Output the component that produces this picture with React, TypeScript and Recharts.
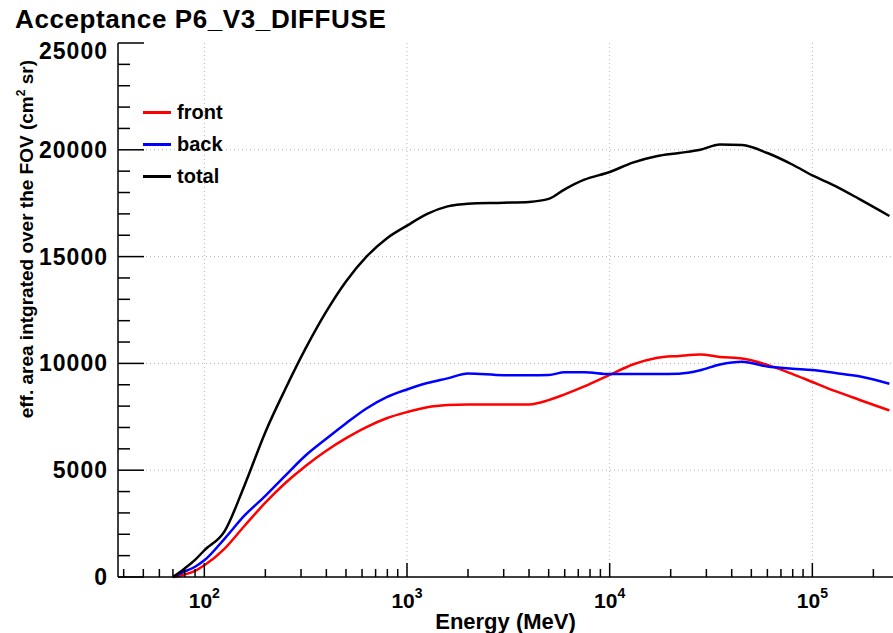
import { CartesianGrid, Line, LineChart, XAxis, YAxis } from "recharts";

const title = "Acceptance P6_V3_DIFFUSE";

const energies = [
  70, 80, 90, 100, 126, 158, 200, 251, 316, 398, 501, 631, 794, 1000, 1259, 1585, 2000, 3000, 4000, 5000,
  6000, 7500, 10000, 13000, 17000, 22000, 28000, 35000, 45000, 60000, 80000, 100000, 130000, 170000, 240000,
];

const front = [
  0, 120, 290, 550, 1330, 2400, 3480, 4400, 5200, 5900, 6500, 7020, 7430, 7720, 7950, 8050, 8080, 8080,
  8080, 8280, 8550, 8920, 9460, 9950, 10250, 10350, 10420, 10300, 10230, 9930, 9500, 9130, 8700, 8300,
  7800,
];

const back = [
  0, 260, 480, 780, 1800, 2880, 3800, 4750, 5690, 6460, 7200, 7890, 8420, 8780, 9080, 9300, 9530, 9450,
  9450, 9460, 9580, 9580, 9500, 9500, 9500, 9520, 9680, 9950, 10080, 9850, 9750, 9690, 9550, 9400, 9050,
];

const total = [
  0, 400, 800, 1250, 2150, 4300, 6780, 8800, 10700, 12400, 13850, 15000, 15850, 16450, 17000, 17350,
  17480, 17520, 17560, 17700, 18150, 18600, 18960, 19400, 19700, 19850, 20000, 20250, 20220, 19850,
  19300, 18800, 18300, 17700, 16900,
];

const xTicks = [
  40, 50, 60, 70, 80, 90, 100, 200, 300, 400, 500, 600, 700, 800, 900, 1000, 2000, 3000, 4000, 5000,
  6000, 7000, 8000, 9000, 10000, 20000, 30000, 40000, 50000, 60000, 70000, 80000, 90000, 100000, 200000,
];
const xDecades = [100, 1000, 10000, 100000];

const yTicks = [
  0, 1000, 2000, 3000, 4000, 5000, 6000, 7000, 8000, 9000, 10000, 11000, 12000, 13000, 14000, 15000,
  16000, 17000, 18000, 19000, 20000, 21000, 22000, 23000, 24000, 25000,
];
const yMajor = [5000, 10000, 15000, 20000];

const series = [
  { key: "front", name: "front", color: "#ff0000" },
  { key: "back", name: "back", color: "#0000ff" },
  { key: "total", name: "total", color: "#000000" },
];

const rows = energies.map((e, i) => ({ e, front: front[i], back: back[i], total: total[i] }));

const FONT = "'Liberation Sans', Arial, Helvetica, sans-serif";

const isDecade = (v: number) => xDecades.includes(v);

function BottomTick({ x, y, payload }: any) {
  const v = payload.value;
  const big = isDecade(v);
  const exp = Math.round(Math.log10(v));
  return (
    <g>
      <line x1={x} x2={x} y1={y} y2={y - (big ? 14 : 8)} stroke="#000" strokeWidth={1.5} />
      {big && (
        <text x={x} y={y + 31} textAnchor="middle" fontFamily={FONT} fontWeight="bold" fontSize={21} fill="#000">
          10
          <tspan fontSize={14} dy={-10}>
            {exp}
          </tspan>
        </text>
      )}
    </g>
  );
}

function TopTick({ x, y, payload }: any) {
  const big = isDecade(payload.value);
  return <line x1={x} x2={x} y1={y} y2={y + (big ? 14 : 8)} stroke="#000" strokeWidth={1.5} />;
}

function LeftTick({ x, y, payload }: any) {
  const v = payload.value;
  const big = v % 5000 === 0;
  // the top label sits just under the frame, as in the original
  const dy = v === 25000 ? 16 : 8;
  return (
    <g>
      <line x1={x} x2={x + (big ? 26 : 12)} y1={y} y2={y} stroke="#000" strokeWidth={1.5} />
      {big && (
        <text
          x={x - 10}
          y={y + dy}
          textAnchor="end"
          fontFamily={FONT}
          fontWeight="bold"
          fontSize={23}
          letterSpacing={1}
          fill="#000"
        >
          {v}
        </text>
      )}
    </g>
  );
}

function RightTick({ x, y, payload }: any) {
  const big = payload.value % 5000 === 0;
  return <line x1={x} x2={x - (big ? 22 : 8)} y1={y} y2={y} stroke="#000" strokeWidth={1.5} />;
}

function LegendBox() {
  return (
    <div
      style={{
        position: "absolute",
        left: 143,
        top: 96,
        fontFamily: FONT,
        fontWeight: "bold",
        fontSize: 20,
      }}
    >
      {series.map((s) => (
        <div key={s.key} style={{ display: "flex", alignItems: "center", height: 32 }}>
          <span style={{ display: "inline-block", width: 28, height: 3, background: s.color, marginRight: 6 }} />
          <span>{s.name}</span>
        </div>
      ))}
    </div>
  );
}

export default function App() {
  return (
    <div style={{ position: "absolute", left: 0, top: 0, width: 893, height: 633, background: "#fff" }}>
      <LineChart width={893} height={633} data={rows} margin={{ top: 43, right: 0, bottom: 0, left: 0 }}>
        <CartesianGrid
          xAxisId="bottom"
          yAxisId="left"
          horizontal
          vertical
          horizontalValues={yMajor}
          verticalValues={xDecades}
          stroke="#b4b4b4"
          strokeDasharray="1 3"
        />
        <XAxis
          xAxisId="bottom"
          dataKey="e"
          type="number"
          scale="log"
          domain={[37.5, 250000]}
          allowDataOverflow
          ticks={xTicks}
          interval={0}
          height={56}
          tickSize={0}
          tickMargin={0}
          tickLine={false}
          tick={<BottomTick />}
          axisLine={{ stroke: "#000", strokeWidth: 1.5 }}
          label={{
            value: "Energy (MeV)",
            position: "insideBottom",
            offset: 4,
            style: { fontFamily: FONT, fontWeight: "bold", fontSize: 22, fill: "#000" },
          }}
        />
        <XAxis
          xAxisId="top"
          orientation="top"
          dataKey="e"
          type="number"
          scale="log"
          domain={[37.5, 250000]}
          allowDataOverflow
          ticks={xTicks}
          interval={0}
          height={0}
          tickSize={0}
          tickMargin={0}
          tickLine={false}
          tick={<TopTick />}
          axisLine={{ stroke: "#000", strokeWidth: 1.5 }}
        />
        <YAxis
          yAxisId="left"
          type="number"
          domain={[0, 25000]}
          ticks={yTicks}
          interval={0}
          width={118}
          tickSize={0}
          tickMargin={0}
          tickLine={false}
          tick={<LeftTick />}
          axisLine={{ stroke: "#000", strokeWidth: 1.5 }}
        />
        <YAxis
          yAxisId="right"
          orientation="right"
          type="number"
          domain={[0, 25000]}
          ticks={yTicks}
          interval={0}
          width={0}
          tickSize={0}
          tickMargin={0}
          tickLine={false}
          tick={<RightTick />}
          axisLine={{ stroke: "#000", strokeWidth: 1.5 }}
        />
        {series.map((s) => (
          <Line
            key={s.key}
            xAxisId="bottom"
            yAxisId="left"
            type="monotone"
            dataKey={s.key}
            name={s.name}
            stroke={s.color}
            strokeWidth={2.5}
            dot={false}
            isAnimationActive={false}
          />
        ))}
      </LineChart>
      <svg
        width={893}
        height={633}
        style={{ position: "absolute", left: 0, top: 0, pointerEvents: "none" }}
      >
        <text x={15} y={28} fontFamily={FONT} fontWeight="bold" fontSize={26} letterSpacing={0.6} fill="#000">
          {title}
        </text>
        <text
          x={33}
          y={60}
          transform="rotate(-90 33 60)"
          textAnchor="end"
          fontFamily={FONT}
          fontWeight="bold"
          fontSize={19}
          fill="#000"
        >
          eff. area intgrated over the FOV (cm
          <tspan fontSize={12} dy={-8}>
            2
          </tspan>
          <tspan dy={8}> sr)</tspan>
        </text>
      </svg>
      <LegendBox />
    </div>
  );
}
